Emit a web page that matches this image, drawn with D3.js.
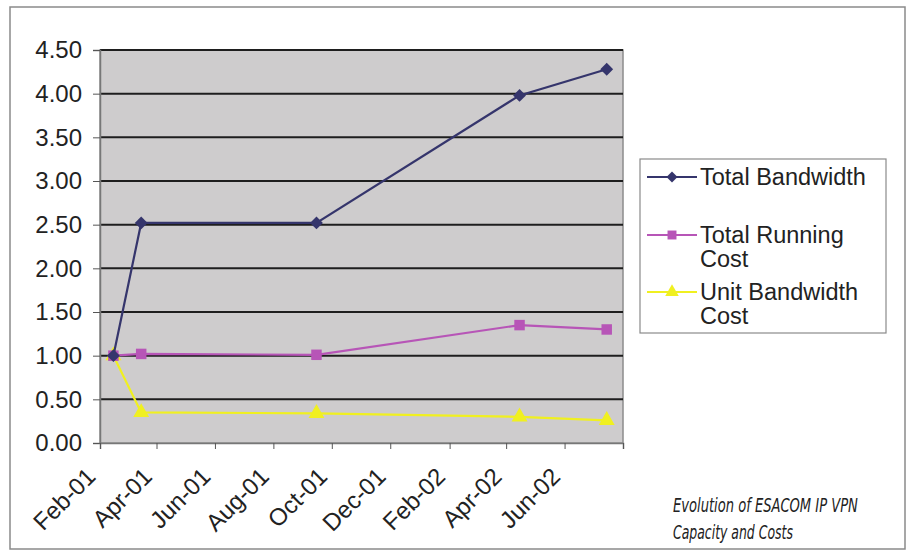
<!DOCTYPE html>
<html>
<head>
<meta charset="utf-8">
<script src="https://cdn.jsdelivr.net/npm/d3@7"></script>
<style>
  body { margin: 0; background: #fff; }
  svg text { font-family: "Liberation Sans", Arial, sans-serif; fill: #222; }
  .caption { font-family: "DejaVu Sans Condensed", "Liberation Sans", sans-serif; font-style: italic; }
</style>
</head>
<body>
<div id="chart"></div>
<script>
// values
const pointDates = ["2001-02-15", "2001-03-16", "2001-09-15", "2002-04-15", "2002-07-15"]
const totalBandwidth = [1.00, 2.52, 2.52, 3.98, 4.28]
const totalRunningCost = [1.00, 1.02, 1.01, 1.35, 1.30]
const unitBandwidthCost = [1.00, 0.35, 0.34, 0.30, 0.26]

const seriesNames = ["Total Bandwidth", "Total Running Cost", "Unit Bandwidth Cost"]
const seriesColors = ["#35356c", "#b755b7", "#f0f020"]
const seriesSymbols = ["diamond", "square", "triangle"]

const xTickDates = ["2001-02-01", "2001-04-01", "2001-06-01", "2001-08-01", "2001-10-01",
  "2001-12-01", "2002-02-01", "2002-04-01", "2002-06-01", "2002-08-01"]
const xTickLabels = ["Feb-01", "Apr-01", "Jun-01", "Aug-01", "Oct-01",
  "Dec-01", "Feb-02", "Apr-02", "Jun-02", ""]
const yTicks = [0, 0.5, 1, 1.5, 2, 2.5, 3, 3.5, 4, 4.5]

const captionLines = ["Evolution of ESACOM IP VPN", "Capacity and Costs"]

const width = 910
const height = 554
const plot = { left: 100, top: 50, right: 623, bottom: 443 }
const parse = d3.utcParse("%Y-%m-%d")

const svg = d3.select("#chart").append("svg")
  .attr("width", width)
  .attr("height", height)

// outer frame
svg.append("rect")
  .attr("x", 10).attr("y", 7)
  .attr("width", 895).attr("height", 542)
  .attr("fill", "#fff")
  .attr("stroke", "#8a8a8a")
  .attr("stroke-width", 1.5)

const x = d3.scaleUtc()
  .domain([parse("2001-02-01"), parse("2002-08-01")])
  .range([plot.left, plot.right])

const y = d3.scaleLinear()
  .domain([0, 4.5])
  .range([plot.bottom, plot.top])

// plot background
svg.append("rect")
  .attr("x", plot.left).attr("y", plot.top)
  .attr("width", plot.right - plot.left)
  .attr("height", plot.bottom - plot.top)
  .attr("fill", "#cecccd")
  .attr("stroke", "#8c8c8c")
  .attr("stroke-width", 1.5)

// grid lines
svg.append("g").classed("grid", true)
  .selectAll("line")
  .data(yTicks.filter(d => d > 0))
  .enter().append("line")
  .attr("x1", plot.left).attr("x2", plot.right)
  .attr("y1", d => y(d)).attr("y2", d => y(d))
  .attr("stroke", "#1e1e1e")
  .attr("stroke-width", 2)

// y axis
const yAxis = svg.append("g")
  .attr("transform", `translate(${plot.left},0)`)
  .call(d3.axisLeft(y).tickValues(yTicks).tickFormat(d3.format(".2f")).tickSize(7).tickPadding(11))
yAxis.select(".domain").attr("stroke", "#777").attr("stroke-width", 1.5)
yAxis.selectAll(".tick line").attr("stroke", "#555")
yAxis.selectAll("text").attr("font-size", 24).attr("fill", "#222")

// x axis
const xAxis = svg.append("g")
  .attr("transform", `translate(0,${plot.bottom})`)
  .call(d3.axisBottom(x).tickValues(xTickDates.map(parse)).tickFormat("").tickSize(6))
xAxis.select(".domain").attr("stroke", "#777").attr("stroke-width", 1.5)
xAxis.selectAll(".tick line").attr("stroke", "#555")

svg.append("g").classed("x-labels", true)
  .selectAll("text")
  .data(xTickDates.map((d, i) => ({ date: parse(d), label: xTickLabels[i] })))
  .enter().append("text")
  .attr("transform", d => `translate(${x(d.date) - 3},${plot.bottom + 35}) rotate(-45)`)
  .attr("text-anchor", "end")
  .attr("font-size", 24)
  .text(d => d.label)

// series
const series = [totalBandwidth, totalRunningCost, unitBandwidthCost].map((vals, i) => ({
  name: seriesNames[i],
  color: seriesColors[i],
  symbol: seriesSymbols[i],
  points: vals.map((v, j) => ({ date: parse(pointDates[j]), value: v }))
}))

const line = d3.line()
  .x(d => x(d.date))
  .y(d => y(d.value))

function marker(sel, kind, size) {
  if (kind === "diamond") {
    sel.attr("d", d3.symbol().type(d3.symbolSquare).size(size * 0.75)())
      .attr("transform", function () { return d3.select(this).attr("transform") + " rotate(45)" })
  } else if (kind === "square") {
    sel.attr("d", d3.symbol().type(d3.symbolSquare).size(size)())
  } else {
    sel.attr("d", d3.symbol().type(d3.symbolTriangle).size(size)())
  }
}

// draw in reverse so the bandwidth line sits on top
series.slice().reverse().forEach(s => {
  const g = svg.append("g").classed("series", true)
  g.append("path")
    .datum(s.points)
    .attr("d", line)
    .attr("fill", "none")
    .attr("stroke", s.color)
    .attr("stroke-width", 2.2)
  g.selectAll("path.pt")
    .data(s.points)
    .enter().append("path")
    .classed("pt", true)
    .attr("transform", d => `translate(${x(d.date)},${y(d.value)})`)
    .attr("fill", s.color)
    .call(marker, s.symbol, 110)
})

// legend
const legend = svg.append("g").attr("transform", "translate(640,159)")
legend.append("rect")
  .attr("width", 246).attr("height", 174)
  .attr("fill", "#fff")
  .attr("stroke", "#8a8a8a")
  .attr("stroke-width", 1.2)

const legendRows = [
  { lines: ["Total Bandwidth"], cy: 18 },
  { lines: ["Total Running", "Cost"], cy: 76 },
  { lines: ["Unit Bandwidth", "Cost"], cy: 133 }
]

legendRows.forEach((row, i) => {
  const s = series[i]
  const g = legend.append("g")
  g.append("line")
    .attr("x1", 7).attr("x2", 57)
    .attr("y1", row.cy).attr("y2", row.cy)
    .attr("stroke", s.color).attr("stroke-width", 2)
  g.append("path")
    .attr("transform", `translate(32,${row.cy})`)
    .attr("fill", s.color)
    .call(marker, s.symbol, 80)
  g.append("text")
    .attr("x", 60)
    .attr("y", row.cy + 8)
    .attr("font-size", 23.5)
    .selectAll("tspan")
    .data(row.lines)
    .enter().append("tspan")
    .attr("x", 60)
    .attr("dy", (d, j) => j === 0 ? 0 : 24)
    .text(d => d)
})

// caption, squeezed horizontally to the width of the narrow italic in the original
const captionWidths = [185, 120]
svg.append("g")
  .selectAll("text")
  .data(captionLines)
  .enter().append("text")
  .classed("caption", true)
  .attr("font-size", 19)
  .text(d => d)
  .attr("transform", function (d, i) {
    const sx = captionWidths[i] / this.getComputedTextLength()
    return `translate(673,${512 + i * 27}) scale(${sx},1)`
  })
</script>
</body>
</html>
